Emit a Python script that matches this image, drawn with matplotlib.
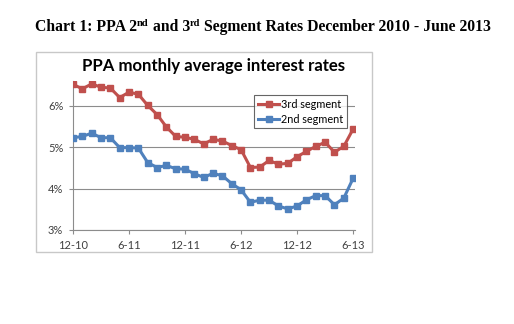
import matplotlib
matplotlib.use('Agg')
import matplotlib.pyplot as plt
from matplotlib.patches import Rectangle

# monthly values, Dec 2010 .. Jun 2013 (percent)
seg3 = [6.52, 6.41, 6.53, 6.45, 6.43, 6.20, 6.33, 6.28, 6.01, 5.79, 5.49, 5.26,
        5.24, 5.19, 5.08, 5.19, 5.15, 5.04, 4.94, 4.51, 4.52, 4.68, 4.59, 4.61,
        4.77, 4.90, 5.02, 5.12, 4.88, 5.02, 5.44]
seg2 = [5.23, 5.26, 5.34, 5.23, 5.23, 4.99, 4.99, 4.98, 4.63, 4.51, 4.56, 4.48,
        4.47, 4.36, 4.27, 4.37, 4.31, 4.12, 3.97, 3.67, 3.72, 3.72, 3.58, 3.51,
        3.58, 3.73, 3.83, 3.83, 3.61, 3.77, 4.25]
tick_pos = [0, 6, 12, 18, 24, 30]
tick_labels = ['12-10', '6-11', '12-11', '6-12', '12-12', '6-13']
y_ticks = [3, 4, 5, 6]

W, H = 514, 324
fig = plt.figure(figsize=(W / 100, H / 100), dpi=100)
fig.patch.set_facecolor('white')


def fx(px):
    return px / W


def fy(py):
    return 1 - py / H


# chart border
fig.patches.append(Rectangle((fx(36), fy(252)), fx(372) - fx(36), fy(52) - fy(252),
                             transform=fig.transFigure, fill=False, edgecolor='#c8c8c8', lw=1))

ax = fig.add_axes([fx(73), fy(230), fx(355) - fx(73), fy(81) - fy(230)])
x = list(range(len(seg3)))
ax.plot(x, seg3, color='#C0504D', lw=2.2, marker='s', ms=4.2, label='3rd segment', zorder=3)
ax.plot(x, seg2, color='#4F81BD', lw=2.2, marker='s', ms=4.2, label='2nd segment', zorder=3)
ax.set_xlim(0, 30.2)
ax.set_ylim(3, 6.6)
ax.set_yticks(y_ticks)
ax.set_yticklabels([f'{v}%' for v in y_ticks])
ax.set_xticks(tick_pos)
ax.set_xticklabels(tick_labels)
ax.grid(axis='y', color='#8c8c8c', lw=0.8)
ax.set_axisbelow(True)
for s in ['top', 'right']:
    ax.spines[s].set_visible(False)
for s in ['left', 'bottom']:
    ax.spines[s].set_color('#8c8c8c')
    ax.spines[s].set_linewidth(0.8)
ax.tick_params(colors='#8c8c8c', length=3, width=0.8, labelcolor='#404040',
               labelsize=8, pad=4)
for lab in ax.get_xticklabels() + ax.get_yticklabels():
    lab.set_family('Lato')

leg = ax.legend(loc='upper left', bbox_to_anchor=(fx(254), fy(95)),
                bbox_transform=fig.transFigure, prop={'family': 'Lato', 'size': 7.8},
                frameon=True, fancybox=False, edgecolor='#404040', handlelength=2.0,
                handletextpad=0.15, borderpad=0.35, labelspacing=0.35, borderaxespad=0)
leg.get_frame().set_linewidth(0.8)

fig.text(fx(214), fy(66), 'PPA monthly average interest rates', ha='center', va='center',
         fontsize=12.1, fontweight='bold', family='Lato')

# header with superscripts
pieces = [('Chart 1: PPA 2', False), ('nd', True), (' and 3', False), ('rd', True),
          (' Segment Rates December 2010 - June 2013', False)]
fig.canvas.draw()
r = fig.canvas.get_renderer()
cur = fx(35)
base = fy(31)
for txt, sup in pieces:
    t = fig.text(cur, base + (0.015 if sup else 0), txt, fontsize=7.6 if sup else 11.3,
                 fontweight='bold', family='Liberation Serif', va='baseline', ha='left')
    bb = t.get_window_extent(renderer=r)
    cur += bb.width / W

fig.savefig('out.png', dpi=100)
